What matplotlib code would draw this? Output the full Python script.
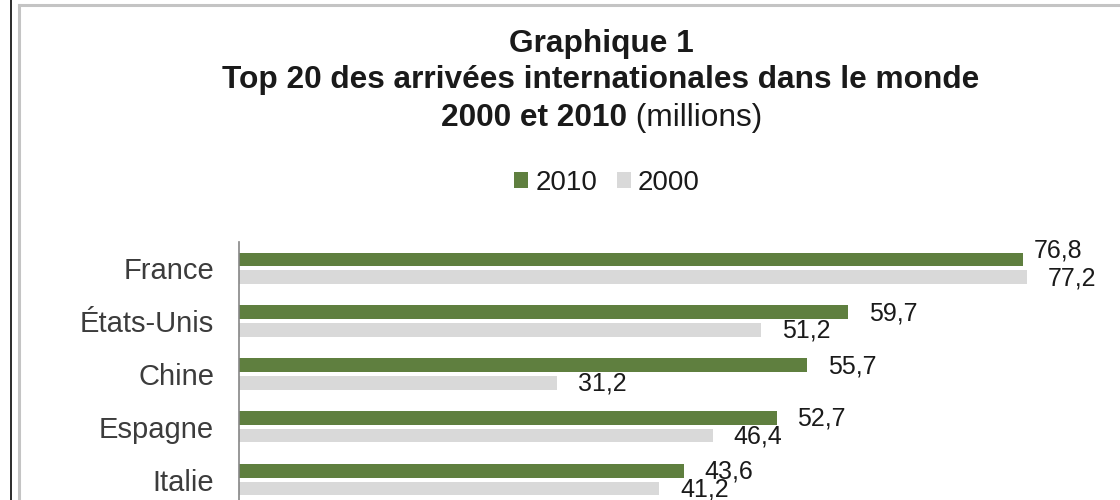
import matplotlib.pyplot as plt
import numpy as np
from matplotlib.lines import Line2D

plt.rcParams["font.family"] = ["Liberation Sans", "DejaVu Sans"]

# values (millions of arrivals)
COUNTRIES = ["France", "États-Unis", "Chine", "Espagne", "Italie"]
ARRIVALS_2010 = [76.8, 59.7, 55.7, 52.7, 43.6]
ARRIVALS_2000 = [77.2, 51.2, 31.2, 46.4, 41.2]

COLOR_2010 = "#5f7f3f"
COLOR_2000 = "#d9d9d9"
TEXT_DARK = "#1a1a1a"
TEXT_GREY = "#3c3c3c"

# the France 2010 label sits higher and closer to its bar in the original
LABEL_NUDGE = {("France", "2010"): (-9, 10)}

W, H, DPI = 1120, 500, 100


def fx(px):
    return px / W


def fy(py):
    return 1 - py / H


fig = plt.figure(figsize=(W / DPI, H / DPI), dpi=DPI)

# axes: value axis at x=239 px, 10.2 px per million
ax = fig.add_axes([fx(239), 0, 85 * 10.205 / W, 258 / H])
y = np.arange(len(COUNTRIES))
bh = 0.26
off = 0.168
b10 = ax.barh(y - off, ARRIVALS_2010, bh, color=COLOR_2010, label="2010")
b00 = ax.barh(y + off, ARRIVALS_2000, bh, color=COLOR_2000, label="2000")
ax.set_xlim(0, 85)
ax.set_ylim(4.388, -0.498)

for bars, vals, year in [(b10, ARRIVALS_2010, "2010"), (b00, ARRIVALS_2000, "2000")]:
    for bar, v, c in zip(bars, vals, COUNTRIES):
        dx, dy = LABEL_NUDGE.get((c, year), (0, 0))
        ax.annotate(f"{v:.1f}".replace(".", ","),
                    (v, bar.get_y() + bar.get_height() / 2),
                    xytext=(20.5 + dx, 1.5 + dy), textcoords="offset pixels",
                    ha="left", va="center_baseline", fontsize=18,
                    color=TEXT_DARK, annotation_clip=False)

ax.set_yticks(y)
ax.set_yticklabels(COUNTRIES, fontsize=21, color=TEXT_GREY)
ax.tick_params(axis="y", length=0, pad=18)
ax.set_xticks([])
for s in ["top", "right", "bottom"]:
    ax.spines[s].set_visible(False)
ax.spines["left"].set_color("#868686")
ax.spines["left"].set_linewidth(1.2)

# legend
fig.legend(handles=[b10, b00], labels=["2010", "2000"], loc="center",
           bbox_to_anchor=(fx(607), fy(183)), ncol=2, frameon=False,
           fontsize=20, handlelength=0.52, handleheight=0.52,
           handletextpad=0.25, columnspacing=0.7, labelcolor=TEXT_DARK)

# title
TITLE_FS = 22.8
cx = fx(601)
fig.text(cx, fy(52), "Graphique 1", ha="center", va="baseline",
         fontsize=TITLE_FS, fontweight="bold", color=TEXT_DARK)
fig.text(cx, fy(88), "Top 20 des arrivées internationales dans le monde",
         ha="center", va="baseline", fontsize=TITLE_FS, fontweight="bold",
         color=TEXT_DARK)
t1 = fig.text(0, fy(126), "2000 et 2010", ha="left", va="baseline",
              fontsize=TITLE_FS, fontweight="bold", color=TEXT_DARK)
t2 = fig.text(0, fy(126), " (millions)", ha="left", va="baseline",
              fontsize=TITLE_FS, color=TEXT_DARK)
r = fig.canvas.get_renderer()
w1 = t1.get_window_extent(r).width
w2 = t2.get_window_extent(r).width
start = 602 - (w1 + w2) / 2
t1.set_x(fx(start))
t2.set_x(fx(start + w1))

# frame of the scanned chart
fig.add_artist(Line2D([fx(11), fx(11)], [0, 1], color="#2b2b2b", lw=1.4))
fig.add_artist(Line2D([fx(18.5), fx(18.5)], [0, fy(5)], color="#c4c4c4", lw=2.2))
fig.add_artist(Line2D([fx(18.5), 1], [fy(5), fy(5)], color="#c4c4c4", lw=2.2))

fig.savefig("out.png", dpi=DPI)
